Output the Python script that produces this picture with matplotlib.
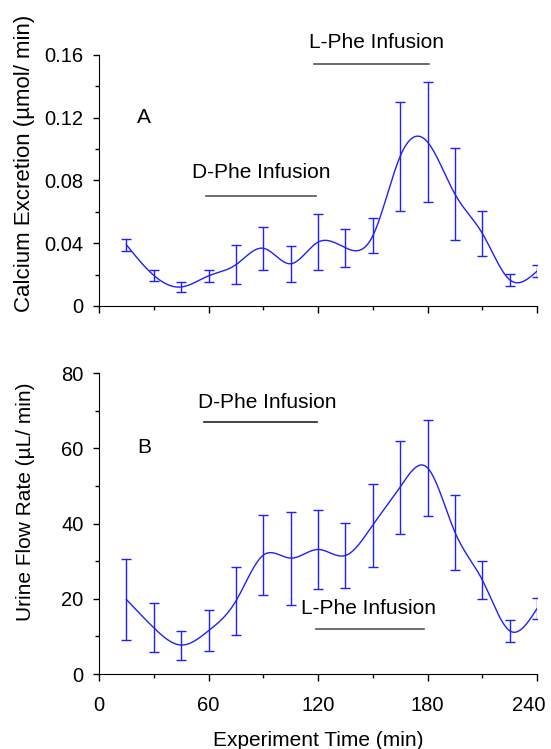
import numpy as np
import matplotlib
matplotlib.use("Agg")
import matplotlib.pyplot as plt
from matplotlib.transforms import ScaledTranslation

# ---- data ----
time = [15, 30, 45, 60, 75, 90, 105, 120, 135, 150, 165, 180, 195, 210, 225, 240]
calcium = [0.0390, 0.0195, 0.0121, 0.0192, 0.0263, 0.0368, 0.0269, 0.0407,
           0.0371, 0.0447, 0.0954, 0.1045, 0.0713, 0.0463, 0.0167, 0.0222]
calcium_err = [0.0037, 0.0034, 0.0030, 0.0037, 0.0125, 0.0138, 0.0114, 0.0177,
               0.0120, 0.0112, 0.0348, 0.0380, 0.0292, 0.0142, 0.0037, 0.0039]
urine = [19.8, 12.3, 7.7, 11.5, 19.4, 31.6, 30.8, 33.1,
         31.5, 39.6, 49.7, 54.8, 37.7, 25.0, 11.5, 17.4]
urine_err = [10.85, 6.56, 3.85, 5.45, 8.95, 10.59, 12.36, 10.54,
             8.68, 11.03, 12.36, 12.76, 10.01, 4.96, 2.88, 2.75]
x_ticks = [0, 60, 120, 180, 240]
ya_ticks = [0, 0.04, 0.08, 0.12, 0.16]
ya_labels = ["0", "0.04", "0.08", "0.12", "0.16"]
yb_ticks = [0, 20, 40, 60, 80]


def natural_spline(x, y, n=400):
    x = np.asarray(x, float)
    y = np.asarray(y, float)
    m = len(x)
    h = np.diff(x)
    A = np.zeros((m, m))
    b = np.zeros(m)
    A[0, 0] = 1
    A[-1, -1] = 1
    for i in range(1, m - 1):
        A[i, i - 1] = h[i - 1]
        A[i, i] = 2 * (h[i - 1] + h[i])
        A[i, i + 1] = h[i]
        b[i] = 6 * ((y[i + 1] - y[i]) / h[i] - (y[i] - y[i - 1]) / h[i - 1])
    M = np.linalg.solve(A, b)
    xs = np.linspace(x[0], x[-1], n)
    idx = np.clip(np.searchsorted(x, xs) - 1, 0, m - 2)
    x0, x1 = x[idx], x[idx + 1]
    hh = x1 - x0
    t0 = x1 - xs
    t1 = xs - x0
    ys = (M[idx] * t0 ** 3 / (6 * hh) + M[idx + 1] * t1 ** 3 / (6 * hh)
          + (y[idx] / hh - M[idx] * hh / 6) * t0
          + (y[idx + 1] / hh - M[idx + 1] * hh / 6) * t1)
    return xs, ys


plt.rcParams['font.family'] = ['Liberation Sans', 'DejaVu Sans']
blue = '#1f1fff'
FS = 15

fig = plt.figure(figsize=(5.51, 7.49), dpi=100)
axA = fig.add_axes([0.1797, 0.5915, 0.795, 0.3351])
axB = fig.add_axes([0.1797, 0.1001, 0.795, 0.4019])

for ax in (axA, axB):
    for s in ('top', 'right'):
        ax.spines[s].set_visible(False)
    ax.set_xlim(0, 240)
    ax.set_xticks(x_ticks)
    ax.set_xticks([30, 90, 150, 210], minor=True)
    ax.tick_params(which='both', direction='out', width=1, labelsize=14.5)
    ax.tick_params(axis='x', which='major', length=5, pad=11)
    ax.tick_params(axis='y', which='major', length=4, pad=7)
    ax.tick_params(which='minor', length=3)

# Panel A
xs, ys = natural_spline(time, calcium)
axA.plot(xs, ys, color=blue, lw=1)
axA.errorbar(time, calcium, yerr=calcium_err, fmt='none', ecolor=blue,
             elinewidth=1, capsize=3.8, capthick=1)
axA.set_ylim(0, 0.16)
axA.set_yticks(ya_ticks)
axA.set_yticklabels(ya_labels)
axA.set_yticks([0.02, 0.06, 0.10, 0.14], minor=True)
axA.set_xticklabels([])
axA.set_ylabel('Calcium Excretion (µmol/ min)', fontsize=16)
axA.yaxis.set_label_coords(-0.146, 0.57)
axA.text(24.6, 0.12, 'A', fontsize=FS, ha='center', va='center')
axA.text(152, 0.1677, 'L-Phe Infusion', fontsize=FS, ha='center', va='center', clip_on=False)
axA.plot([118, 181], [0.1545, 0.1545], color='#555555', lw=1.2, clip_on=False)
axA.text(89, 0.0848, 'D-Phe Infusion', fontsize=FS, ha='center', va='center')
axA.plot([58.5, 119], [0.0703, 0.0703], color='#555555', lw=1.2)

# Panel B
xs, ys = natural_spline(time, urine)
axB.plot(xs, ys, color=blue, lw=1)
axB.errorbar(time, urine, yerr=urine_err, fmt='none', ecolor=blue,
             elinewidth=1, capsize=3.8, capthick=1)
axB.set_ylim(0, 80)
axB.set_yticks(yb_ticks)
axB.set_yticks([10, 30, 50, 70], minor=True)
axB.set_ylabel('Urine Flow Rate (µL/ min)', fontsize=FS)
axB.yaxis.set_label_coords(-0.146, 0.571)
axB.set_xlabel('Experiment Time (min)', fontsize=FS)
axB.xaxis.set_label_coords(0.5, -0.19)
axB.text(24.8, 60.2, 'B', fontsize=FS, ha='center', va='center')
axB.text(92.2, 72.1, 'D-Phe Infusion', fontsize=FS, ha='center', va='center')
axB.plot([57.7, 119.3], [66.9, 66.9], color='#222222', lw=1.2)
axB.text(147.6, 17.5, 'L-Phe Infusion', fontsize=FS, ha='center', va='center')
axB.plot([119, 178], [12.0, 12.0], color='#555555', lw=1.2)

# shift last x tick label left so it stays inside the figure
fig.canvas.draw()
last = axB.get_xticklabels()[-1]
last.set_transform(last.get_transform() + ScaledTranslation(-6 / 72, 0, fig.dpi_scale_trans))

fig.savefig('out.png', dpi=100)
